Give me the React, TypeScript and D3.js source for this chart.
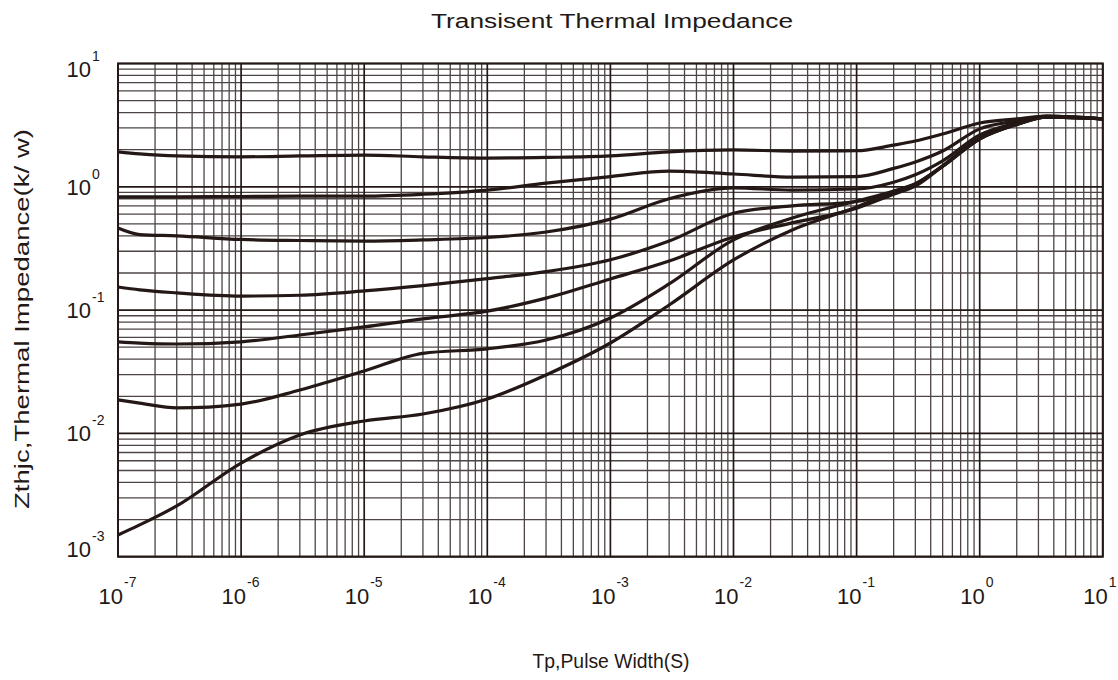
import React from "react";
import * as d3 from "d3";

// pulse width (s) sample points shared by all curves
const pulseWidth = [1e-7, 1.5e-7, 3e-7, 1e-6, 3e-6, 1e-5, 3e-5, 1e-4, 3e-4, 1e-3, 3e-3, 1e-2, 3e-2, 1e-1, 2e-1, 3e-1, 5e-1, 1, 2, 3.5, 10];

// Zthjc (K/W) for each duty cycle
const duty05 = [1.92, 1.85, 1.78, 1.75, 1.78, 1.81, 1.75, 1.71, 1.73, 1.78, 1.92, 1.99, 1.95, 1.96, 2.18, 2.35, 2.68, 3.29, 3.55, 3.75, 3.56];
const duty03 = [0.83, 0.83, 0.83, 0.834, 0.84, 0.84, 0.87, 0.94, 1.07, 1.21, 1.34, 1.27, 1.20, 1.21, 1.41, 1.59, 1.95, 2.95, 3.42, 3.75, 3.56];
const duty01 = [0.463, 0.41, 0.40, 0.374, 0.367, 0.363, 0.371, 0.388, 0.43, 0.547, 0.80, 0.98, 0.94, 0.96, 1.09, 1.25, 1.62, 2.63, 3.29, 3.70, 3.56];
const duty005 = [0.154, 0.146, 0.138, 0.130, 0.132, 0.143, 0.158, 0.180, 0.205, 0.256, 0.363, 0.61, 0.70, 0.76, 0.91, 1.05, 1.48, 2.47, 3.24, 3.70, 3.56];
const duty002 = [0.0552, 0.054, 0.0531, 0.0553, 0.0628, 0.0730, 0.085, 0.098, 0.125, 0.179, 0.25, 0.392, 0.51, 0.67, 0.87, 1.015, 1.47, 2.46, 3.22, 3.67, 3.56];
const duty001 = [0.0187, 0.0176, 0.0161, 0.0173, 0.0225, 0.0321, 0.0446, 0.0485, 0.0572, 0.0863, 0.163, 0.371, 0.558, 0.767, 0.925, 1.06, 1.47, 2.45, 3.21, 3.67, 3.56];
const singlePulse = [0.0015, 0.00181, 0.00258, 0.00575, 0.00971, 0.0126, 0.01436, 0.0190, 0.0298, 0.0541, 0.110, 0.255, 0.447, 0.686, 0.908, 1.05, 1.46, 2.44, 3.20, 3.67, 3.56];

const curves = [duty05, duty03, duty01, duty005, duty002, duty001, singlePulse];

const xExponents = [-7, -6, -5, -4, -3, -2, -1, 0, 1];
const yExponents = [-3, -2, -1, 0, 1];

const title = "Transisent Thermal Impedance";
const xLabel = "Tp,Pulse Width(S)";
const yLabel = "Zthjc,Thermal Impedance(k/ w)";

const width = 1118;
const height = 680;
const plot = {left: 118, right: 1102.8, top: 63.5, bottom: 556.7};
const ink = "#231815";
const font = "Arial, 'Liberation Sans', sans-serif";

export default function App() {
    const x = d3.scaleLog().domain([1e-7, 10]).range([plot.left, plot.right]);
    const y = d3.scaleLog().domain([1e-3, 10]).range([plot.bottom, plot.top]);

    const line = d3.line<[number, number]>()
        .x(d => x(d[0]))
        .y(d => y(d[1]))
        .curve(d3.curveMonotoneX);

    // minor grid values: 2..9 times each decade
    const xMinor: number[] = [];
    for (let e = -7; e < 1; e++) for (let k = 2; k <= 9; k++) xMinor.push(k * Math.pow(10, e));
    const yMinor: number[] = [];
    for (let e = -3; e < 1; e++) for (let k = 2; k <= 9; k++) yMinor.push(k * Math.pow(10, e));

    return (
        <svg width={width} height={height} style={{position: "absolute", left: 0, top: 0, background: "white"}} fontFamily={font}>
            {xMinor.map((v, i) => (
                <line key={"xm" + i} x1={x(v)} x2={x(v)} y1={plot.top} y2={plot.bottom}
                      stroke="#4d4545" strokeWidth={1.3}/>
            ))}
            {yMinor.map((v, i) => (
                <line key={"ym" + i} y1={y(v)} y2={y(v)} x1={plot.left} x2={plot.right}
                      stroke="#4d4545" strokeWidth={1.3}/>
            ))}
            {xExponents.map(e => (
                <line key={"xM" + e} x1={x(Math.pow(10, e))} x2={x(Math.pow(10, e))} y1={plot.top} y2={plot.bottom}
                      stroke={ink} strokeWidth={1.7}/>
            ))}
            {yExponents.map(e => (
                <line key={"yM" + e} y1={y(Math.pow(10, e))} y2={y(Math.pow(10, e))} x1={plot.left} x2={plot.right}
                      stroke={ink} strokeWidth={1.7}/>
            ))}
            <rect x={plot.left} y={plot.top} width={plot.right - plot.left} height={plot.bottom - plot.top}
                  fill="none" stroke={ink} strokeWidth={2}/>

            {curves.map((c, i) => (
                <path key={"c" + i}
                      d={line(pulseWidth.map((t, j) => [t, c[j]] as [number, number])) || ""}
                      fill="none" stroke={ink} strokeWidth={3.2} strokeLinejoin="round"/>
            ))}

            {yExponents.map(e => {
                const ty = y(Math.pow(10, e));
                const base = Math.min(Math.max(ty + 8, plot.top + 13.5), plot.bottom + 0.5);
                return (
                    <g key={"yl" + e} fill={ink}>
                        <text x={91} y={base} fontSize={22} textAnchor="end">10</text>
                        <text x={92} y={base - 16} fontSize={14}>{e < 0 ? "-" + (-e) : e}</text>
                    </g>
                );
            })}
            {xExponents.map(e => {
                const tx = x(Math.pow(10, e));
                return (
                    <g key={"xl" + e} fill={ink}>
                        <text x={tx + 5} y={604} fontSize={22} textAnchor="end">10</text>
                        <text x={tx + 6} y={587} fontSize={14}>{e < 0 ? "-" + (-e) : e}</text>
                    </g>
                );
            })}

            <text x={612} y={28} fontSize={20} textAnchor="middle" fill={ink}
                  textLength={362} lengthAdjust="spacingAndGlyphs">{title}</text>
            <text x={611} y={668} fontSize={20} textAnchor="middle" fill={ink}
                  textLength={157} lengthAdjust="spacingAndGlyphs">{xLabel}</text>
            <text transform="translate(29,319) rotate(-90)" fontSize={21} textAnchor="middle" fill={ink}
                  textLength={380} lengthAdjust="spacingAndGlyphs">{yLabel}</text>
        </svg>
    );
}
